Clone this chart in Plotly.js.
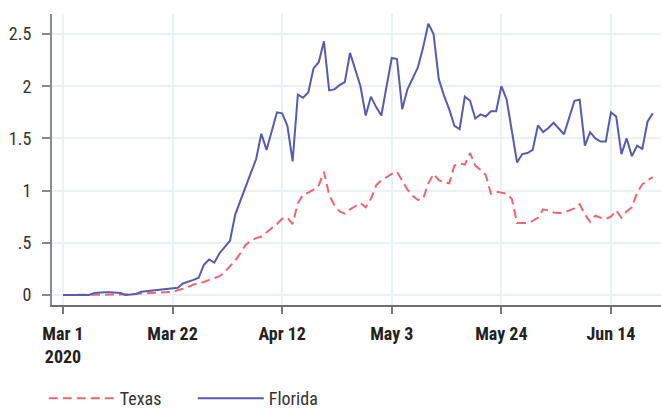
<!DOCTYPE html>
<html>
<head>
<meta charset="utf-8">
<script src="https://cdn.plot.ly/plotly-3.0.1.min.js"></script>
<style>
  html, body { margin: 0; padding: 0; background: #fff; }
  #chart { width: 661px; height: 408px; }
</style>
</head>
<body>
<div id="chart"></div>
<script>
// ---- data (daily values, Mar 1 2020 .. Jun 22 2020) ----
const startDate = '2020-03-01';
const texas = [
  0, 0, 0, 0, 0, 0, 0.005, 0.005, 0.005, 0.005,
  0.005, 0.005, 0.005, 0.008, 0.01, 0.012, 0.015, 0.016, 0.02, 0.025,
  0.028, 0.03, 0.045, 0.06, 0.075, 0.10, 0.11, 0.125, 0.145, 0.16,
  0.18, 0.22, 0.27, 0.33, 0.40, 0.48, 0.52, 0.545, 0.56, 0.60,
  0.64, 0.68, 0.73, 0.74, 0.68, 0.88, 0.96, 0.98, 1.01, 1.05,
  1.18, 0.96, 0.86, 0.80, 0.78, 0.82, 0.85, 0.88, 0.84, 0.92,
  1.05, 1.10, 1.13, 1.16, 1.18, 1.10, 1.01, 0.95, 0.91, 0.92,
  1.07, 1.16, 1.10, 1.08, 1.07, 1.24, 1.26, 1.25, 1.36, 1.24,
  1.20, 1.15, 0.97, 0.99, 0.98, 0.97, 0.92, 0.69, 0.69, 0.69,
  0.71, 0.74, 0.82, 0.81, 0.79, 0.785, 0.79, 0.81, 0.83, 0.87,
  0.77, 0.70, 0.76, 0.74, 0.73, 0.75, 0.81, 0.74, 0.80, 0.84,
  0.98, 1.06, 1.10, 1.13
];
const florida = [
  0, 0, 0, 0, 0, 0, 0.02, 0.025, 0.025, 0.025,
  0.025, 0.02, 0, 0.002, 0.01, 0.03, 0.035, 0.04, 0.045, 0.05,
  0.06, 0.062, 0.07, 0.11, 0.125, 0.145, 0.165, 0.29, 0.34, 0.31,
  0.40, 0.46, 0.52, 0.77, 0.91, 1.04, 1.17, 1.30, 1.545, 1.39,
  1.57, 1.75, 1.74, 1.62, 1.28, 1.92, 1.89, 1.94, 2.17, 2.23,
  2.43, 1.96, 1.97, 2.01, 2.04, 2.32, 2.16, 2.00, 1.72, 1.90,
  1.80, 1.72, 2.00, 2.27, 2.26, 1.78, 1.97, 2.08, 2.18, 2.37,
  2.60, 2.50, 2.07, 1.91, 1.78, 1.62, 1.59, 1.90, 1.86, 1.69,
  1.73, 1.71, 1.76, 1.76, 2.00, 1.875, 1.59, 1.27, 1.35, 1.36,
  1.39, 1.625, 1.56, 1.60, 1.65, 1.59, 1.54, 1.70, 1.86, 1.87,
  1.43, 1.56, 1.50, 1.47, 1.47, 1.75, 1.71, 1.35, 1.50, 1.33,
  1.43, 1.40, 1.66, 1.74
];
const xTickVals = ['2020-03-01', '2020-03-22', '2020-04-12', '2020-05-03', '2020-05-24', '2020-06-14'];
const xTickText = ['Mar 1<br>2020', 'Mar 22', 'Apr 12', 'May 3', 'May 24', 'Jun 14'];
const yTickVals = [0, 0.5, 1, 1.5, 2, 2.5];
const yTickText = ['0', '.5', '1', '1.5', '2', '2.5'];
const seriesNames = ['Texas', 'Florida'];

// dates for each daily observation
function dayList(start, n) {
  const out = [];
  const d0 = new Date(start + 'T00:00:00Z');
  for (let i = 0; i < n; i++) {
    const d = new Date(d0.getTime() + i * 86400000);
    out.push(d.toISOString().slice(0, 10));
  }
  return out;
}
const dates = dayList(startDate, texas.length);

const FONT = '"Roboto Condensed", "Liberation Sans Narrow", "DejaVu Sans Condensed", "Liberation Sans", sans-serif';

const traces = [
  {
    x: dates, y: texas, name: seriesNames[0], type: 'scatter', mode: 'lines',
    line: { color: 'rgb(242,100,112)', width: 2, dash: '9px,5px' }
  },
  {
    x: dates, y: florida, name: seriesNames[1], type: 'scatter', mode: 'lines',
    line: { color: 'rgb(88,92,176)', width: 2 }
  }
];

const layout = {
  width: 661, height: 408,
  margin: { l: 52, r: 0, t: 14, b: 103, pad: 0, autoexpand: false },
  paper_bgcolor: '#fff', plot_bgcolor: '#fff',
  font: { family: FONT, size: 18, color: '#333' },
  showlegend: true,
  legend: {
    orientation: 'h', x: -0.0135, xanchor: 'left', y: -0.385, yanchor: 'bottom',
    valign: 'middle',
    font: { family: FONT, size: 18, color: '#333' },
    itemwidth: 66, entrywidth: 68, entrywidthmode: 'pixels',
    tracegroupgap: 0, bgcolor: 'rgba(0,0,0,0)', borderwidth: 0
  },
  xaxis: {
    type: 'date',
    range: ['2020-02-27 21:30', '2020-06-23 14:00'],
    tickmode: 'array', tickvals: xTickVals,
    ticktext: xTickText.map(t => '<b>' + t.replace('<br>', '</b><br><b>') + '</b>'),
    tickfont: { family: FONT, size: 18, color: '#222' },
    ticks: 'outside', ticklen: 7, tickwidth: 2, tickcolor: '#777',
    ticklabelstandoff: 4,
    showline: true, linecolor: '#6e6e6e', linewidth: 2,
    showgrid: true, gridcolor: 'rgb(234,243,244)', gridwidth: 2,
    zeroline: false, fixedrange: true
  },
  yaxis: {
    range: [-0.096, 2.692],
    tickmode: 'array', tickvals: yTickVals, ticktext: yTickText,
    tickfont: { family: FONT, size: 18, color: '#333' },
    ticks: 'outside', ticklen: 8, tickwidth: 2, tickcolor: '#888',
    ticklabelstandoff: 7,
    showline: true, linecolor: '#8a8a8a', linewidth: 2,
    showgrid: true, gridcolor: 'rgb(234,243,244)', gridwidth: 2,
    zeroline: false, fixedrange: true
  }
};

Plotly.newPlot('chart', traces, layout, { staticPlot: true, displayModeBar: false });
</script>
</body>
</html>
